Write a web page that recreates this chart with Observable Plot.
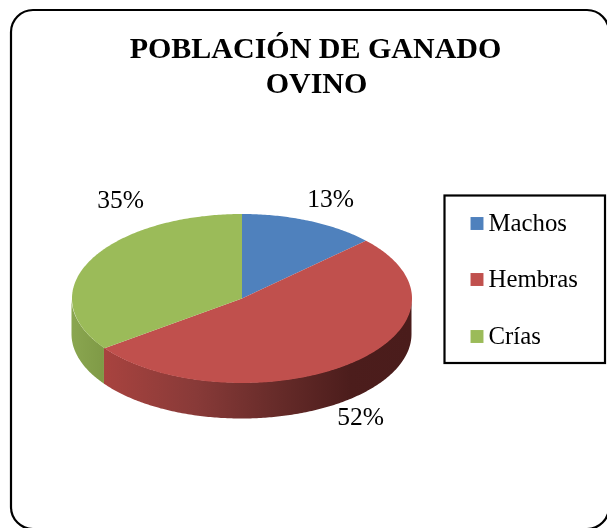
<!DOCTYPE html>
<html><head><meta charset="utf-8">
<script src="https://cdn.jsdelivr.net/npm/d3@7"></script>
<script src="https://cdn.jsdelivr.net/npm/@observablehq/plot@0.6"></script>
<style>html,body{margin:0;padding:0;background:#fff;overflow:hidden}svg{display:block;filter:blur(0.45px)}</style>
</head><body><div id="chart"></div>
<script>
const categories = ["Machos", "Hembras", "Crías"];
const shares = [13, 52, 35];
const colors = ["#4f81bd", "#c0504d", "#9bbb59"];
const titleLines = ["POBLACIÓN DE GANADO", "OVINO"];

// layout (page pixels)
const W = 607, H = 528;
const pie = {cx: 241.5, cy: 298, rx: 170, ry: 84.5, depth: 36};
const labelPos = [{x: 330, y: 198}, {x: 360, y: 416}, {x: 120, y: 199}];
const legendY = [223, 279, 336];
const font = "'Liberation Serif','Times New Roman',serif";

const TAU = 2 * Math.PI;
const arcs = d3.pie().sort(null).startAngle(0).endAngle(TAU)(shares);
const px = a => pie.cx + pie.rx * Math.sin(a);
const py = a => pie.cy - pie.ry * Math.cos(a);
const sample = (a0, a1) => {
  const n = Math.max(2, Math.ceil((a1 - a0) * 80));
  return d3.range(n + 1).map(i => a0 + (a1 - a0) * i / n);
};
const tops = arcs.flatMap((d, i) => [
  {name: categories[i], x: pie.cx, y: pie.cy},
  ...sample(d.startAngle, d.endAngle).map(a => ({name: categories[i], x: px(a), y: py(a)}))
]);
const sideRows = i => {
  const a0 = Math.max(arcs[i].startAngle, TAU / 4), a1 = Math.min(arcs[i].endAngle, 3 * TAU / 4);
  return sample(a0, a1).map(a => ({x: px(a), y1: py(a), y2: py(a) + pie.depth}));
};
const legendRows = categories.map((name, i) => ({name, y: legendY[i]}));
const pctRows = shares.map((v, i) => ({text: v + "%", ...labelPos[i]}));
const titleRows = titleLines.map((t, i) => ({t, x: [315, 316][i], y: [48, 83][i]}));

const defs = () => {
  const d = d3.create("svg:defs");
  const grad = (id, stops) => {
    const g = d.append("linearGradient").attr("id", id).attr("x1", 0).attr("x2", 1).attr("y1", 0).attr("y2", 0);
    stops.forEach(([o, c]) => g.append("stop").attr("offset", o).attr("stop-color", c));
  };
  grad("sideRed", [[0, "#a8433f"], [0.3, "#883a38"], [0.55, "#682c2a"], [0.8, "#4c1d1c"], [1, "#4a1c1b"]]);
  grad("sideGreen", [[0, "#8aa650"], [1, "#7f9a46"]]);
  return d.node();
};

const plot = Plot.plot({
  width: W, height: H, margin: 0,
  style: {background: "#fff", fontFamily: font},
  x: {domain: [0, W], range: [0, W], axis: null},
  y: {domain: [0, H], range: [0, H], axis: null},
  color: {domain: categories, range: colors},
  marks: [
    defs,
    Plot.rect([{x1: 11, x2: 609, y1: 10, y2: 529}], {x1: "x1", x2: "x2", y1: "y1", y2: "y2", fill: "#fff", stroke: "#000", strokeWidth: 2.2, rx: 22}),
    Plot.areaY(sideRows(2), {x: "x", y1: "y1", y2: "y2", fill: "url(#sideGreen)"}),
    Plot.areaY(sideRows(1), {x: "x", y1: "y1", y2: "y2", fill: "url(#sideRed)"}),
    Plot.line(tops, {x: "x", y: "y", z: "name", fill: "name", stroke: "none"}),
    Plot.text(titleRows, {x: "x", y: "y", text: "t", fontSize: 30, fontWeight: "bold", fill: "#000"}),
    Plot.text(pctRows, {x: "x", y: "y", text: "text", fontSize: 25.5, fill: "#000"}),
    Plot.rect([{x1: 444.5, x2: 605, y1: 195.5, y2: 363}], {x1: "x1", x2: "x2", y1: "y1", y2: "y2", fill: "#fff", stroke: "#000", strokeWidth: 2.2}),
    Plot.dot(legendRows, {x: () => 476.5, y: "y", symbol: "square", r: 7.3, fill: "name", stroke: "none"}),
    Plot.text(legendRows, {x: () => 488, y: "y", text: "name", textAnchor: "start", fontSize: 24.8, fill: "#000"})
  ]
});
document.getElementById("chart").append(plot);
</script></body></html>
